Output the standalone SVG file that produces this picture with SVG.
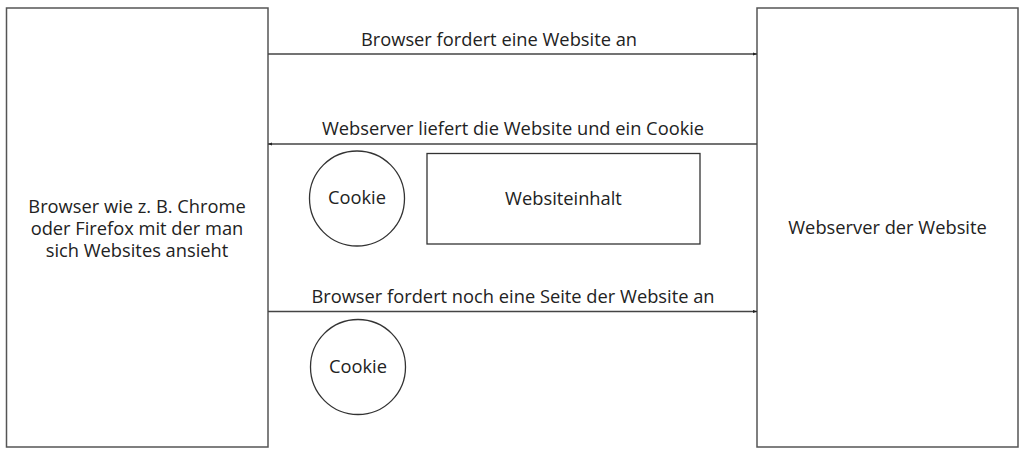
<svg xmlns="http://www.w3.org/2000/svg" width="1024" height="456" viewBox="0 0 1024 456">
<defs>
<marker id="ah" viewBox="0 0 10 10" refX="10" refY="5" markerWidth="4" markerHeight="4" orient="auto" markerUnits="userSpaceOnUse">
<path d="M0,1 L10,5 L0,9 z" fill="#222"/>
</marker>
<style>
.box{fill:#fff;stroke:#555;stroke-width:1.5}
.shape{fill:#fff;stroke:#333;stroke-width:1.3}
.line{stroke:#444;stroke-width:1.3;fill:none;marker-end:url(#ah)}
text{font-family:"Open Sans","Noto Sans",sans-serif;font-size:18.3px;fill:#222;text-anchor:middle}
</style>
</defs>
<rect width="1024" height="456" fill="#fff"/>
<g id="browser">
<rect class="box" x="6.5" y="8" width="261.5" height="439"/>
<text x="137" y="213">Browser wie z. B. Chrome</text>
<text x="137" y="235">oder Firefox mit der man</text>
<text x="137" y="257">sich Websites ansieht</text>
</g>
<g id="webserver">
<rect class="box" x="757" y="8" width="261" height="439"/>
<text x="887.5" y="234">Webserver der Website</text>
</g>
<g id="cookie1">
<circle class="shape" cx="357" cy="198.5" r="47.5"/>
<text x="357" y="204">Cookie</text>
</g>
<g id="inhalt">
<rect class="shape" x="427" y="153.5" width="273" height="90.5"/>
<text x="563.5" y="205">Websiteinhalt</text>
</g>
<g id="cookie2">
<circle class="shape" cx="358" cy="367" r="47.5"/>
<text x="358" y="373">Cookie</text>
</g>
<g id="connectors">
<line class="line" x1="268" y1="54" x2="757" y2="54"/>
<text x="499" y="46">Browser fordert eine Website an</text>
<line class="line" x1="757" y1="144" x2="268" y2="144"/>
<text x="513" y="135">Webserver liefert die Website und ein Cookie</text>
<line class="line" x1="268" y1="311.5" x2="757" y2="311.5"/>
<text x="513" y="303">Browser fordert noch eine Seite der Website an</text>
</g>
</svg>
